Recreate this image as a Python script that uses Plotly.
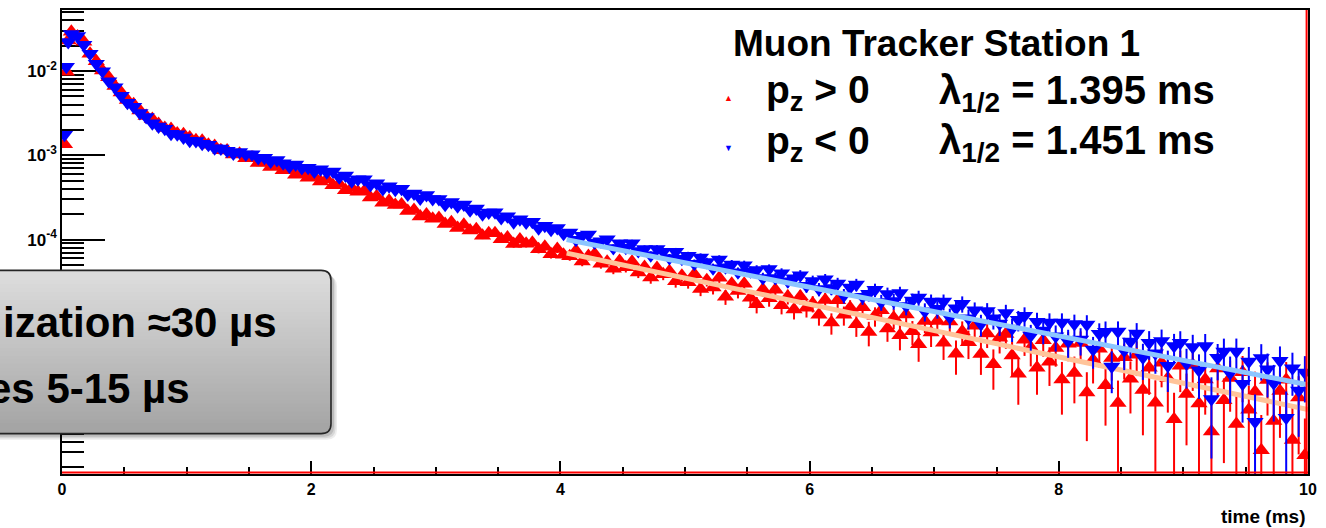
import numpy as np
import plotly.graph_objects as go

# ---------------- data ----------------
time_early = [0.02, 0.035, 0.05]
time_bins = list(np.round(0.075 + 0.05 * np.arange(199), 3))
time_ms = time_early + time_bins

rate_pos_early = [1.35e-3, 9.8e-3, 2.3e-2]
rate_pos_bins = [
    2.91e-2, 2.56e-2, 2.22e-2, 1.60e-2, 1.30e-2, 1.01e-2, 8.45e-3, 6.62e-3, 5.56e-3, 4.51e-3,
    4.04e-3, 3.40e-3, 2.92e-3, 2.69e-3, 2.35e-3, 2.11e-3, 2.05e-3, 1.81e-3, 1.77e-3, 1.63e-3,
    1.51e-3, 1.49e-3, 1.33e-3, 1.29e-3, 1.15e-3, 1.14e-3, 1.02e-3, 1.04e-3, 9.25e-4, 9.38e-4,
    8.09e-4, 8.22e-4, 7.26e-4, 7.53e-4, 6.65e-4, 6.76e-4, 5.87e-4, 6.03e-4, 5.43e-4, 5.62e-4,
    4.90e-4, 5.21e-4, 4.40e-4, 4.57e-4, 3.85e-4, 4.08e-4, 3.70e-4, 3.74e-4, 3.16e-4, 3.27e-4,
    2.73e-4, 2.88e-4, 2.58e-4, 2.60e-4, 2.18e-4, 2.24e-4, 1.88e-4, 1.98e-4, 1.77e-4, 1.80e-4,
    1.53e-4, 1.61e-4, 1.37e-4, 1.50e-4, 1.28e-4, 1.33e-4, 1.11e-4, 1.19e-4, 1.19e-4, 1.01e-4,
    1.06e-4, 8.87e-5, 1.00e-4, 8.93e-5, 9.18e-5, 7.66e-5, 8.22e-5, 6.71e-5, 7.73e-5, 6.59e-5,
    6.34e-5, 7.35e-5, 5.51e-5, 6.38e-5, 6.76e-5, 5.18e-5, 5.47e-5, 4.50e-5, 5.58e-5, 4.70e-5,
    5.45e-5, 4.08e-5, 4.73e-5, 3.54e-5, 4.61e-5, 3.87e-5, 4.20e-5, 3.21e-5, 3.72e-5, 3.13e-5,
    3.89e-5, 2.60e-5, 3.30e-5, 2.71e-5, 3.53e-5, 2.10e-5, 3.00e-5, 2.46e-5, 2.99e-5, 2.04e-5,
    1.71e-5, 2.56e-5, 2.01e-5, 2.55e-5, 1.67e-5, 2.12e-5, 1.48e-5, 2.11e-5, 1.55e-5, 1.75e-5,
    1.28e-5, 1.92e-5, 1.04e-5, 1.91e-5, 1.28e-5, 1.55e-5, 9.89e-6, 1.58e-5, 8.00e-6, 1.25e-5,
    1.45e-5, 8.85e-6, 1.18e-5, 7.33e-6, 1.29e-5, 8.20e-6, 5.74e-6, 1.08e-5, 7.89e-6, 1.08e-5,
    5.97e-6, 1.07e-5, 4.42e-6, 8.11e-6, 6.08e-6, 9.51e-6, 4.40e-6, 7.71e-6, 3.32e-6, 6.85e-6,
    7.59e-6, 4.22e-6, 2.56e-6, 6.50e-6, 5.22e-6, 3.03e-6, 6.41e-6, 3.56e-6, 5.19e-6, 2.19e-6,
    5.81e-6, 2.62e-6, 5.93e-6, 1.54e-6, 3.73e-6, 5.08e-6, 1.87e-6, 3.94e-6, 1.15e-6, 4.02e-6,
    2.23e-6, 4.30e-6, 1.65e-6, 3.03e-6, 1.16e-6, 3.47e-6, 2.26e-6, 7.40e-7, 3.18e-6, 1.47e-6,
    3.25e-6, 1.14e-6, 2.19e-6, 5.31e-7, 2.95e-6, 1.24e-6, 2.29e-6, 6.50e-7, 2.67e-6, 9.59e-7,
    1.57e-6, 3.17e-7, 2.16e-6, 7.06e-7, 1.60e-6, 2.18e-6, 4.20e-7, 1.34e-6, 2.77e-7,
]
rate_pos = rate_pos_early + rate_pos_bins

rate_neg_early = [1.75e-3, 1.12e-2, 2.2e-2]
rate_neg_bins = [
    2.75e-2, 2.59e-2, 2.05e-2, 1.60e-2, 1.22e-2, 9.9e-3, 7.53e-3, 6.40e-3, 5.07e-3, 4.21e-3,
    3.77e-3, 3.17e-3, 2.85e-3, 2.39e-3, 2.20e-3, 2.06e-3, 1.80e-3, 1.77e-3, 1.62e-3, 1.49e-3,
    1.48e-3, 1.37e-3, 1.33e-3, 1.21e-3, 1.20e-3, 1.13e-3, 1.05e-3, 1.09e-3, 1.02e-3, 1.03e-3,
    9.29e-4, 9.33e-4, 8.45e-4, 8.77e-4, 8.04e-4, 7.36e-4, 7.80e-4, 7.05e-4, 7.13e-4, 6.44e-4,
    6.82e-4, 6.27e-4, 6.43e-4, 5.50e-4, 5.77e-4, 4.92e-4, 5.18e-4, 5.19e-4, 4.44e-4, 4.66e-4,
    3.97e-4, 4.28e-4, 3.91e-4, 4.01e-4, 3.43e-4, 3.52e-4, 3.08e-4, 3.38e-4, 3.02e-4, 3.03e-4,
    2.59e-4, 2.79e-4, 2.49e-4, 2.61e-4, 2.23e-4, 2.34e-4, 2.00e-4, 2.10e-4, 2.11e-4, 1.80e-4,
    1.89e-4, 1.61e-4, 1.74e-4, 1.59e-4, 1.63e-4, 1.36e-4, 1.46e-4, 1.31e-4, 1.37e-4, 1.17e-4,
    1.21e-4, 9.95e-5, 1.11e-4, 1.15e-4, 9.23e-5, 9.55e-5, 1.01e-4, 7.96e-5, 9.06e-5, 8.00e-5,
    9.08e-5, 7.31e-5, 7.74e-5, 6.53e-5, 7.76e-5, 7.18e-5, 6.04e-5, 7.19e-5, 5.92e-5, 6.43e-5,
    5.16e-5, 6.15e-5, 5.42e-5, 4.57e-5, 5.82e-5, 4.69e-5, 5.08e-5, 4.09e-5, 4.98e-5, 4.20e-5,
    4.36e-5, 3.50e-5, 4.47e-5, 3.51e-5, 3.99e-5, 3.21e-5, 3.48e-5, 3.78e-5, 2.84e-5, 3.22e-5,
    2.59e-5, 3.38e-5, 2.66e-5, 3.02e-5, 2.17e-5, 2.70e-5, 2.93e-5, 2.10e-5, 2.28e-5, 2.54e-5,
    1.82e-5, 2.26e-5, 1.87e-5, 2.32e-5, 1.63e-5, 1.89e-5, 2.06e-5, 1.41e-5, 1.84e-5, 1.51e-5,
    1.84e-5, 1.20e-5, 1.53e-5, 1.74e-5, 1.17e-5, 1.45e-5, 9.95e-6, 1.42e-5, 1.17e-5, 1.01e-5,
    1.35e-5, 8.81e-6, 1.12e-5, 1.25e-5, 7.28e-6, 1.06e-5, 8.37e-6, 1.04e-5, 7.14e-6, 1.04e-5,
    6.24e-6, 1.00e-5, 6.55e-6, 9.82e-6, 4.98e-6, 7.64e-6, 8.09e-6, 3.12e-6, 8.11e-6, 4.84e-6,
    6.17e-6, 7.69e-6, 3.99e-6, 5.98e-6, 4.50e-6, 6.28e-6, 3.19e-6, 5.48e-6, 5.96e-6, 3.39e-6,
    5.32e-6, 2.82e-6, 5.46e-6, 1.29e-6, 3.96e-6, 4.71e-6, 2.62e-6, 4.72e-6, 1.95e-6, 3.59e-6,
    6.93e-7, 3.94e-6, 2.90e-6, 1.98e-6, 3.66e-6, 7.73e-7, 2.98e-6, 1.62e-6, 2.66e-6,
]
rate_neg = rate_neg_early + rate_neg_bins

# exponential fits (drawn between fit-range end points)
fit_t = [4.05, 10.0]
fit_pos = [6.92e-5, 9.66e-7]
fit_neg = [1.00e-4, 1.90e-6]

# normalisation used for Poisson errors: sigma = sqrt(N)/K, N = rate*K
COUNT_NORM = 1.2e6

x_ticks = [0, 2, 4, 6, 8, 10]
y_ticks = [1e-6, 1e-5, 1e-4, 1e-3, 1e-2]
# labels of 1e-6 and 1e-5 are hidden behind the overlay box in the reference
y_ticktext = ["", "", "10<sup>-4</sup>", "10<sup>-3</sup>", "10<sup>-2</sup>"]

title_text = "Muon Tracker Station 1"
row_pos = ("p<sub>z</sub> &gt; 0", "λ<sub>1/2</sub> = 1.395 ms")
row_neg = ("p<sub>z</sub> &lt; 0", "λ<sub>1/2</sub> = 1.451 ms")
box_lines = ["ization ≈30 µs", "es 5-15 µs"]

assert len(time_ms) == len(rate_pos) == len(rate_neg)

err_pos = np.sqrt(np.array(rate_pos) / COUNT_NORM)
err_neg = np.sqrt(np.array(rate_neg) / COUNT_NORM)

# ---------------- layout geometry ----------------
W, H = 1326, 528
ML, MR, MT, MB = 62, 18, 8, 54
PW = W - ML - MR
PH = H - MT - MB
FONT = "Liberation Sans, Arial, Helvetica, sans-serif"

RED = "#ff0000"
BLUE = "#0000ff"
SALMON = "#ffc49a"
LIGHTBLUE = "#8cc6ff"


def px(xp):
    return (xp - ML) / PW


def py(yp):
    return (H - MB - yp) / PH


fig = go.Figure()

fig.add_trace(go.Scatter(
    x=time_ms, y=rate_pos, mode="markers",
    marker=dict(symbol="triangle-up", size=15, color=RED, line=dict(width=0)),
    error_y=dict(type="data", array=err_pos, color=RED, thickness=2, width=0),
    showlegend=False, cliponaxis=True,
))
fig.add_trace(go.Scatter(
    x=fit_t, y=fit_pos, mode="lines",
    line=dict(color=SALMON, width=5), showlegend=False,
))
fig.add_trace(go.Scatter(
    x=time_ms, y=rate_neg, mode="markers",
    marker=dict(symbol="triangle-down", size=15, color=BLUE, line=dict(width=0)),
    error_y=dict(type="data", array=err_neg, color=BLUE, thickness=2, width=0),
    showlegend=False, cliponaxis=True,
))
fig.add_trace(go.Scatter(
    x=fit_t, y=fit_neg, mode="lines",
    line=dict(color=LIGHTBLUE, width=5), showlegend=False,
))

shapes = []

# red frame lines (inside bottom / right edges)
shapes.append(dict(type="line", xref="paper", yref="paper",
                   x0=0, x1=1, y0=py(472.6), y1=py(472.6),
                   line=dict(color=RED, width=2)))
shapes.append(dict(type="line", xref="paper", yref="paper",
                   x0=px(1306.6), x1=px(1306.6), y0=0, y1=1,
                   line=dict(color=RED, width=2)))

# ---------- rounded gradient box ----------
BX0, BX1, BY0, BY1, RAD = -30, 331, 269.5, 433.5, 10


def path_of(cmds, close=True):
    s = ""
    for p in cmds:
        coords = " ".join(f"{px(a):.5f},{py(b):.5f}" for a, b in p[1:])
        s += f"{p[0]}{coords} "
    return s + ("Z" if close else "")


def rrect_path(x0, y0, x1, y1, r):
    return path_of([
        ("M", (x0 + r, y0)), ("L", (x1 - r, y0)),
        ("Q", (x1, y0), (x1, y0 + r)), ("L", (x1, y1 - r)),
        ("Q", (x1, y1), (x1 - r, y1)), ("L", (x0 + r, y1)),
        ("Q", (x0, y1), (x0, y1 - r)), ("L", (x0, y0 + r)),
        ("Q", (x0, y0), (x0 + r, y0)),
    ])


# shadow
for off, alpha in [(6, 0.07), (4.5, 0.09), (3, 0.12)]:
    shapes.append(dict(type="path", xref="paper", yref="paper",
                       path=rrect_path(BX0 + off, BY0 + off, BX1 + off, BY1 + off, RAD),
                       fillcolor=f"rgba(0,0,0,{alpha})", line=dict(width=0), layer="above"))

C_TOP = np.array([222, 222, 222])
C_BOT = np.array([163, 163, 163])


def col_at(y):
    t = (y - BY0) / (BY1 - BY0)
    c = C_TOP + (C_BOT - C_TOP) * t
    return "rgb({},{},{})".format(*[int(round(v)) for v in c])


shapes.append(dict(type="path", xref="paper", yref="paper",
                   path=path_of([("M", (BX0, BY0)), ("L", (BX1 - RAD, BY0)),
                                 ("Q", (BX1, BY0), (BX1, BY0 + RAD)),
                                 ("L", (BX1, BY0 + RAD + 0.4)), ("L", (BX0, BY0 + RAD + 0.4))]),
                   fillcolor=col_at(BY0 + RAD / 2), line=dict(width=0), layer="above"))
n_strips = 36
ys = np.linspace(BY0 + RAD, BY1 - RAD, n_strips + 1)
for i in range(n_strips):
    y0s, y1s = ys[i], ys[i + 1]
    shapes.append(dict(type="rect", xref="paper", yref="paper",
                       x0=px(BX0), x1=px(BX1), y0=py(y0s - 0.3), y1=py(y1s + 0.3),
                       fillcolor=col_at((y0s + y1s) / 2), line=dict(width=0), layer="above"))
shapes.append(dict(type="path", xref="paper", yref="paper",
                   path=path_of([("M", (BX0, BY1 - RAD - 0.4)), ("L", (BX1, BY1 - RAD - 0.4)),
                                 ("L", (BX1, BY1 - RAD)),
                                 ("Q", (BX1, BY1), (BX1 - RAD, BY1)), ("L", (BX0, BY1))]),
                   fillcolor=col_at(BY1 - RAD / 2), line=dict(width=0), layer="above"))
shapes.append(dict(type="path", xref="paper", yref="paper",
                   path=rrect_path(BX0, BY0, BX1, BY1, RAD),
                   fillcolor="rgba(0,0,0,0)", line=dict(color="#262626", width=1.6), layer="above"))

annotations = []


def ann(text, xp, yp, size, xanchor="left", yanchor="middle", color="black", bold=True):
    annotations.append(dict(
        text=f"<b>{text}</b>" if bold else text,
        xref="paper", yref="paper", x=px(xp), y=py(yp),
        xanchor=xanchor, yanchor=yanchor, showarrow=False,
        font=dict(family=FONT, size=size, color=color),
        borderpad=0,
    ))


# legend block
ann(title_text, 732, 42, 37)
ann(row_pos[0], 765, 91, 39)
ann(row_pos[1], 938, 91, 40)
ann(row_neg[0], 765, 142, 39)
ann(row_neg[1], 938, 142, 40)
ann("▲", 728, 96, 9, xanchor="center", color=RED, bold=False)
ann("▼", 728, 147, 9, xanchor="center", color=BLUE, bold=False)

# box text
ann(box_lines[0], 278, 322, 42, xanchor="right")
ann(box_lines[1], 191, 388, 42, xanchor="right")

# axis title
ann("time (ms)", 1306, 517, 19, xanchor="right")

fig.update_layout(
    width=W, height=H,
    margin=dict(l=ML, r=MR, t=MT, b=MB, pad=0),
    paper_bgcolor="white", plot_bgcolor="white",
    shapes=shapes, annotations=annotations,
    showlegend=False,
    xaxis=dict(
        range=[0, 10], showgrid=False, zeroline=False,
        showline=True, linecolor="black", linewidth=1.5, mirror=True,
        ticks="inside", ticklen=13, tickwidth=1.5, tickcolor="black",
        tickvals=x_ticks, ticktext=[str(v) for v in x_ticks],
        tickfont=dict(family=FONT, size=16, color="black", weight="bold"),
        minor=dict(ticks="inside", ticklen=7, tickwidth=1.5, tickcolor="black",
                   dtick=0.5, showgrid=False),
        layer="below traces",
    ),
    yaxis=dict(
        type="log", range=[-6.78, -1.277], showgrid=False, zeroline=False,
        showline=True, linecolor="black", linewidth=1.5, mirror=True,
        ticks="inside", ticklen=43, tickwidth=1.5, tickcolor="black",
        tickvals=y_ticks, ticktext=y_ticktext,
        tickfont=dict(family=FONT, size=17, color="black", weight="bold"),
        minor=dict(ticks="inside", ticklen=22, tickwidth=1.5, tickcolor="black",
                   dtick="D1", showgrid=False),
        layer="below traces",
    ),
)

fig.write_html("out.html", config={"displayModeBar": False},
               post_script="document.body.style.margin='0px';")
